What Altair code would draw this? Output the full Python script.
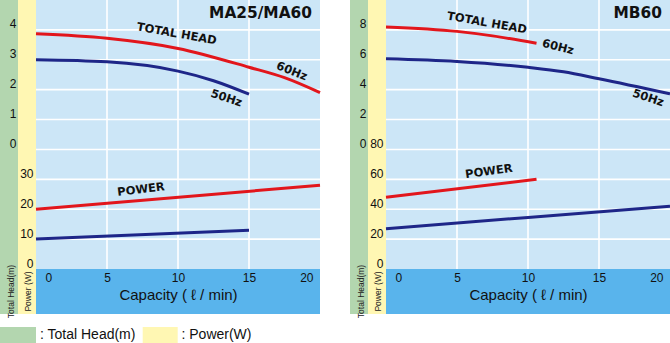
import altair as alt
import pandas as pd

# ---------------- data ----------------
X_TICKS = [0, 5, 10, 15, 20]
X_GRID = [5, 10, 15]
LEGEND_ITEMS = ["Total Head(m)", "Power(W)"]

# MA25/MA60
a_title = "MA25/MA60"
a_head60_cap = [0, 5, 10, 15, 17.5, 20]
a_head60_val = [3.87, 3.72, 3.38, 2.75, 2.40, 1.90]
a_head50_cap = [0, 5, 10, 12.5, 15]
a_head50_val = [3.00, 2.93, 2.62, 2.30, 1.85]
a_pow60_cap = [0, 20]
a_pow60_val = [20, 28]
a_pow50_cap = [0, 15]
a_pow50_val = [10, 13]
a_head_ticks = [0, 1, 2, 3, 4]
a_head_grid = [-3, -2, -1, 0, 1, 2, 3, 4]
a_pow_ticks = [0, 10, 20, 30]
a_head_dom = [-4, 5]
a_pow_dom = [0, 90]
a_head_notes = ["TOTAL HEAD", "60Hz", "50Hz"]
a_head_note_x = [9.9, 18.0, 13.4]
a_head_note_y = [3.85, 2.6, 1.7]
a_head_note_ang = [10, 22, 18]
a_pow_notes = ["POWER"]
a_pow_note_x = [7.4]
a_pow_note_y = [26.4]
a_pow_note_ang = [353]

# MB60
b_title = "MB60"
b_head60_cap = [0, 5, 7.5, 10.6]
b_head60_val = [8.2, 7.9, 7.6, 7.1]
b_head50_cap = [0, 5, 10, 12.5, 15, 20]
b_head50_val = [6.07, 5.89, 5.50, 5.20, 4.73, 3.72]
b_pow60_cap = [0, 10.6]
b_pow60_val = [48, 60]
b_pow50_cap = [0, 10, 20]
b_pow50_val = [27, 34.5, 42]
b_head_ticks = [0, 2, 4, 6, 8]
b_head_grid = [-6, -4, -2, 0, 2, 4, 6, 8]
b_pow_ticks = [0, 20, 40, 60, 80]
b_head_dom = [-8, 10]
b_pow_dom = [0, 180]
b_head_notes = ["TOTAL HEAD", "60Hz", "50Hz"]
b_head_note_x = [7.1, 12.1, 18.45]
b_head_note_y = [8.43, 6.82, 3.41]
b_head_note_ang = [10, 14, 18]
b_pow_notes = ["POWER"]
b_pow_note_x = [7.25]
b_pow_note_y = [64.9]
b_pow_note_ang = [352]

# ---------------- style / layout ----------------
BG = "#CCE6F7"
BAND = "#59B4EC"
GREEN = "#B3D6AF"
YELLOW = "#FFF7B3"
RED = "#E2161C"
NAVY = "#1E2688"
FONT = "Liberation Sans"
NARROW = "Liberation Sans Narrow, Liberation Sans"
BOLD = "DejaVu Sans"
TOTAL_W, TOTAL_H = 670, 343
H = 269            # plot-area height
BAND_BOTTOM = 314  # bottom of the capacity band
ONE = pd.DataFrame({"k": [0]})


def line_df(cap, val, field):
    return pd.DataFrame({"cap": cap, field: val})


def notes(t, x, y, a):
    return pd.DataFrame({"t": t, "x": x, "y": y, "a": a})


def rect(color, x, x2, y, y2):
    return alt.Chart(ONE).mark_rect(color=color).encode(
        x=alt.value(x), x2=alt.value(x2), y=alt.value(y), y2=alt.value(y2))


def panel(x0, x1, title, head_series, pow_series, head_dom, head_ticks, head_grid,
          pow_dom, pow_ticks, head_notes, pow_notes):
    xsc = alt.Scale(domain=[0, 20], range=[x0, x1], nice=False, zero=False)
    hsc = alt.Scale(domain=head_dom, range=[H, 0], nice=False, zero=False)
    psc = alt.Scale(domain=pow_dom, range=[H, 0], nice=False, zero=False)

    layers = [
        rect(BG, x0, x1, 0, H),
        rect(BAND, x0, x1, H, BAND_BOTTOM),
        rect(GREEN, x0 - 36, x0 - 18, 0, BAND_BOTTOM),
        rect(YELLOW, x0 - 18, x0, 0, BAND_BOTTOM),
    ]
    # white grid
    layers.append(alt.Chart(pd.DataFrame({"v": head_grid})).mark_rule(
        color="white", strokeWidth=1.6).encode(
        y=alt.Y("v:Q", scale=hsc, axis=None), x=alt.value(x0), x2=alt.value(x1)))
    layers.append(alt.Chart(pd.DataFrame({"v": X_GRID})).mark_rule(
        color="white", strokeWidth=1.6).encode(
        x=alt.X("v:Q", scale=xsc, axis=None), y=alt.value(0), y2=alt.value(H)))

    layers.append(alt.Chart(pd.DataFrame({"t": [title]})).mark_text(
        align="right", baseline="middle", font=BOLD, fontWeight="bold", fontSize=15.4,
        color="#111").encode(x=alt.value(x1 - 8), y=alt.value(13), text="t:N"))

    xaxis = alt.Axis(orient="bottom", offset=H - TOTAL_H, values=X_TICKS, grid=False,
                     domain=False, ticks=False, tickSize=0, labelPadding=3, labelFlush=False,
                     labelAlign={"condition": [{"test": "datum.value == 0", "value": "left"},
                                               {"test": "datum.value == 20", "value": "right"}],
                                 "value": "center"},
                     labelOffset={"condition": [{"test": "datum.value == 0", "value": 9},
                                                {"test": "datum.value == 20", "value": -7}],
                                  "value": 0},
                     labelFontSize=12, labelFont=FONT, labelColor="#111",
                     title="Capacity ( ℓ / min)", titleFont=FONT, titleFontSize=15,
                     titleFontWeight="normal", titleColor="#111", titlePadding=4, zindex=1)
    haxis = alt.Axis(orient="left", offset=-x0, values=head_ticks, grid=False, domain=False,
                     ticks=False, tickSize=0, labelPadding=20, labelFontSize=12, labelFont=FONT,
                     labelColor="#111", labelBaseline="alphabetic", labelOffset=-2,
                     title="Total Head(m)", titleAngle=270, titleX=-26, titleY=291,
                     titleFont=NARROW, titleFontSize=8.5, titleFontWeight="normal",
                     titleColor="#222", titleAlign="center", titleBaseline="middle",
                     zindex=1, minExtent=0)
    paxis = alt.Axis(orient="left", offset=-x0, values=pow_ticks, grid=False, domain=False,
                     ticks=False, tickSize=0, labelPadding=3, labelFontSize=12, labelFont=FONT,
                     labelColor="#111", labelBaseline="alphabetic", labelOffset=-2,
                     title="Power (W)", titleAngle=270, titleX=-9, titleY=291,
                     titleFont=NARROW, titleFontSize=8.5, titleFontWeight="normal",
                     titleColor="#222", titleAlign="center", titleBaseline="middle",
                     zindex=1, minExtent=0)

    for i, (df, col) in enumerate(head_series):
        layers.append(alt.Chart(df).mark_line(color=col, strokeWidth=3,
                                              interpolate="monotone").encode(
            x=alt.X("cap:Q", scale=xsc, axis=xaxis if i == 0 else None),
            y=alt.Y("head:Q", scale=hsc, axis=haxis if i == 0 else None)))
    for i, (df, col) in enumerate(pow_series):
        layers.append(alt.Chart(df).mark_line(color=col, strokeWidth=3).encode(
            x=alt.X("cap:Q", scale=xsc, axis=None),
            y=alt.Y("power:Q", scale=psc, axis=paxis if i == 0 else None)))
    layers.append(alt.Chart(head_notes).mark_text(
        font=BOLD, fontWeight="bold", fontSize=11.5, color="#111").encode(
        x=alt.X("x:Q", scale=xsc, axis=None), y=alt.Y("y:Q", scale=hsc, axis=None),
        text="t:N", angle=alt.Angle("a:Q", scale=None)))
    layers.append(alt.Chart(pow_notes).mark_text(
        font=BOLD, fontWeight="bold", fontSize=11.5, color="#111").encode(
        x=alt.X("x:Q", scale=xsc, axis=None), y=alt.Y("y:Q", scale=psc, axis=None),
        text="t:N", angle=alt.Angle("a:Q", scale=None)))
    return layers


left = panel(
    36, 320, a_title,
    [(line_df(a_head60_cap, a_head60_val, "head"), RED),
     (line_df(a_head50_cap, a_head50_val, "head"), NAVY)],
    [(line_df(a_pow60_cap, a_pow60_val, "power"), RED),
     (line_df(a_pow50_cap, a_pow50_val, "power"), NAVY)],
    a_head_dom, a_head_ticks, a_head_grid, a_pow_dom, a_pow_ticks,
    notes(a_head_notes, a_head_note_x, a_head_note_y, a_head_note_ang),
    notes(a_pow_notes, a_pow_note_x, a_pow_note_y, a_pow_note_ang))

right = panel(
    386, 670, b_title,
    [(line_df(b_head60_cap, b_head60_val, "head"), RED),
     (line_df(b_head50_cap, b_head50_val, "head"), NAVY)],
    [(line_df(b_pow60_cap, b_pow60_val, "power"), RED),
     (line_df(b_pow50_cap, b_pow50_val, "power"), NAVY)],
    b_head_dom, b_head_ticks, b_head_grid, b_pow_dom, b_pow_ticks,
    notes(b_head_notes, b_head_note_x, b_head_note_y, b_head_note_ang),
    notes(b_pow_notes, b_pow_note_x, b_pow_note_y, b_pow_note_ang))

# key below the charts
legend_layers = [
    rect(GREEN, 0, 36, 327, 343),
    rect(YELLOW, 142.7, 177.7, 327, 343),
    alt.Chart(pd.DataFrame({"t": [": " + LEGEND_ITEMS[0]]})).mark_text(
        align="left", baseline="middle", font=FONT, fontSize=14, color="#111").encode(
        x=alt.value(40), y=alt.value(335), text="t:N"),
    alt.Chart(pd.DataFrame({"t": [": " + LEGEND_ITEMS[1]]})).mark_text(
        align="left", baseline="middle", font=FONT, fontSize=14, color="#111").encode(
        x=alt.value(181.5), y=alt.value(335), text="t:N"),
]

chart = alt.layer(*(left + right + legend_layers)).resolve_scale(
    x="independent", y="independent").properties(
    width=TOTAL_W, height=TOTAL_H, padding=0, background="white",
    autosize=alt.AutoSizeParams(type="none")).configure_view(fill="white", strokeWidth=0)

chart.save("out.html", embed_options={"renderer": "svg", "actions": False})
